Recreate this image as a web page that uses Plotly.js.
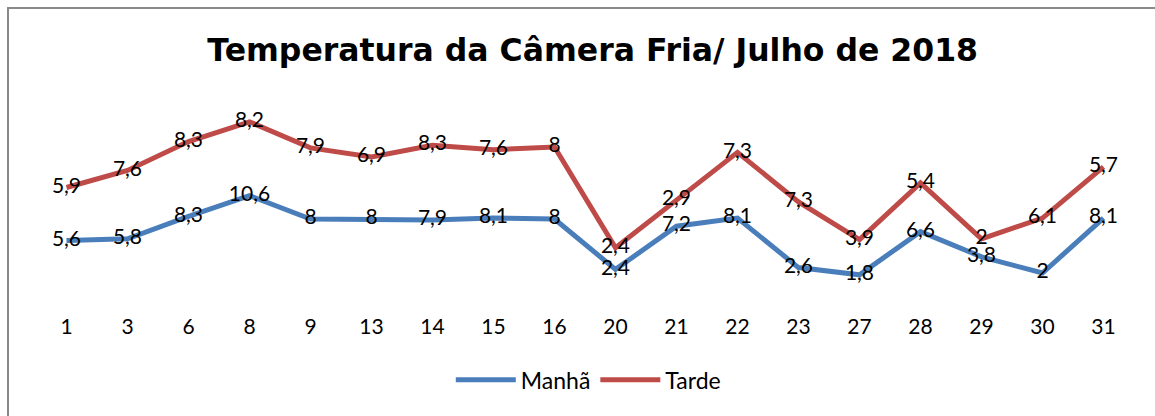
<!DOCTYPE html>
<html>
<head>
<meta charset="utf-8">
<script src="https://cdn.plot.ly/plotly-3.0.1.min.js"></script>
<style>
  html, body { margin: 0; padding: 0; background: #fff; }
  #wrap { position: relative; width: 1155px; height: 416px; overflow: hidden; }
  #chart { position: absolute; left: 0; top: 0; width: 1155px; height: 416px; }
  #frame { position: absolute; left: 7px; top: 7px; width: 1160px; height: 420px;
           border-left: 2px solid #898989; border-top: 2px solid #898989; pointer-events: none; }
</style>
</head>
<body>
<div id="wrap">
  <div id="chart"></div>
  <div id="frame"></div>
</div>
<script>
const days = ['1','3','6','8','9','13','14','15','16','20','21','22','23','27','28','29','30','31'];
const manha = [5.6, 5.8, 8.3, 10.6, 8, 8, 7.9, 8.1, 8, 2.4, 7.2, 8.1, 2.6, 1.8, 6.6, 3.8, 2, 8.1];
const tarde = [5.9, 7.6, 8.3, 8.2, 7.9, 6.9, 8.3, 7.6, 8, 2.4, 2.9, 7.3, 7.3, 3.9, 5.4, 2, 6.1, 5.7];

const fmt = v => String(v).replace('.', ',');
const FONT = 'Lato, "Open Sans", sans-serif';
const TFONT = '"DejaVu Sans", "Open Sans", sans-serif';

const traces = [
  {
    name: 'Manhã', x: days, y: manha, type: 'scatter', mode: 'lines+text',
    stackgroup: 'one', fill: 'none',
    line: {color: '#4A7EBB', width: 5},
    text: manha.map(fmt), textposition: 'middle center',
    textfont: {family: FONT, size: 21, color: '#000'},
    hoverinfo: 'skip'
  },
  {
    name: 'Tarde', x: days, y: tarde, type: 'scatter', mode: 'lines+text',
    stackgroup: 'one', fill: 'none',
    line: {color: '#BE4B48', width: 5},
    text: tarde.map(fmt), textposition: 'middle center',
    textfont: {family: FONT, size: 21, color: '#000'},
    hoverinfo: 'skip'
  }
];

const layout = {
  width: 1155, height: 416,
  margin: {l: 36, r: 21, t: 111, b: 125},
  paper_bgcolor: '#fff', plot_bgcolor: '#fff',
  font: {family: FONT, size: 20, color: '#000'},
  title: {
    text: '<b>Temperatura da Câmera Fria/ Julho de 2018</b>',
    font: {family: TFONT, size: 31.5, color: '#000'},
    x: 0.507, xanchor: 'center', xref: 'paper',
    y: 1, yref: 'container', yanchor: 'top', pad: {t: 39}
  },
  xaxis: {
    type: 'category', range: [-0.5, 17.5],
    showgrid: false, zeroline: false, showline: false, ticks: '',
    ticklabelstandoff: 21,
    tickfont: {family: FONT, size: 21, color: '#000'},
    fixedrange: true
  },
  yaxis: {
    range: [0, 20], visible: false, showgrid: false, zeroline: false, fixedrange: true
  },
  showlegend: true,
  legend: {
    orientation: 'h', x: 0.503, xanchor: 'center', y: 0.087, yref: 'container', yanchor: 'middle',
    font: {family: FONT, size: 23, color: '#000'},
    traceorder: 'normal', itemwidth: 60
  }
};

Plotly.newPlot('chart', traces, layout, {displayModeBar: false, staticPlot: true});
</script>
</body>
</html>
